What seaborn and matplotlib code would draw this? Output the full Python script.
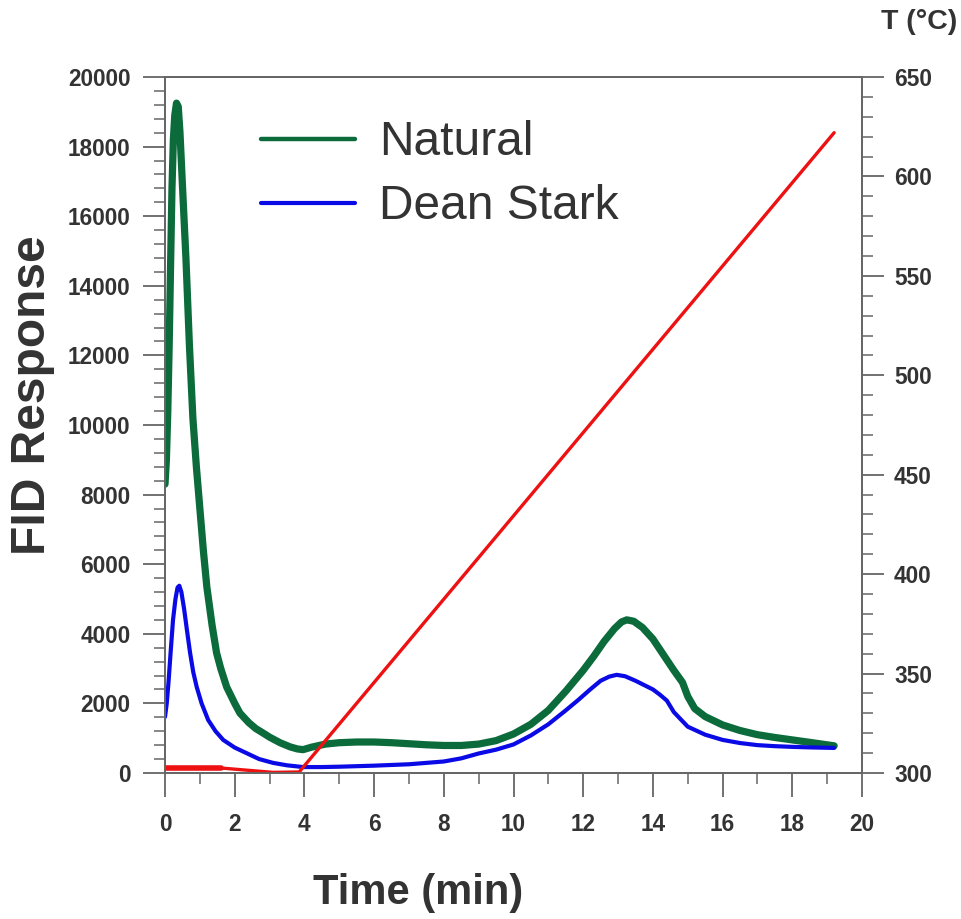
import matplotlib
matplotlib.use("Agg")
import matplotlib.pyplot as plt
from matplotlib.lines import Line2D
from matplotlib.ticker import MultipleLocator
import seaborn as sns
import pandas as pd

# FID signal, natural sample
natural_time = [0, 0.04, 0.08, 0.12, 0.16, 0.2, 0.24, 0.28, 0.33, 0.38, 0.43, 0.5,
                0.6, 0.7, 0.8, 0.9, 1.0, 1.1, 1.2, 1.35, 1.48, 1.6, 1.77, 2.0, 2.15,
                2.4, 2.6, 2.81, 3.0, 3.3, 3.59, 3.8, 3.96, 4.2, 4.6, 5.0, 5.5, 6.0,
                6.5, 7.0, 7.5, 8.0, 8.5, 9.0, 9.5, 10.0, 10.5, 11.0, 11.5, 12.0,
                12.3, 12.6, 12.9, 13.1, 13.25, 13.45, 13.7, 14.0, 14.3, 14.6, 14.85,
                15.0, 15.2, 15.5, 16.0, 16.5, 17.0, 17.5, 18.0, 18.5, 19.2]
natural_fid = [8300, 9000, 10400, 12300, 14600, 16800, 18200, 18900, 19250, 19150,
               18400, 16900, 14800, 12300, 10200, 8800, 7600, 6400, 5350, 4250, 3450,
               3000, 2470, 2000, 1720, 1450, 1280, 1150, 1030, 870, 750, 690, 670,
               740, 830, 870, 890, 890, 870, 840, 810, 790, 790, 830, 930, 1120, 1400,
               1800, 2350, 2950, 3350, 3780, 4150, 4340, 4400, 4360, 4180, 3850, 3400,
               2950, 2600, 2200, 1850, 1620, 1380, 1220, 1100, 1020, 950, 880, 780]

# FID signal, Dean Stark extracted sample
dean_time = [0, 0.05, 0.1, 0.16, 0.23, 0.3, 0.36, 0.41, 0.47, 0.55, 0.63, 0.72, 0.81,
             0.91, 1.05, 1.24, 1.45, 1.67, 2.0, 2.34, 2.7, 3.1, 3.5, 3.96, 4.5, 5.0,
             6.0, 7.0, 8.0, 8.5, 9.0, 9.5, 10.0, 10.5, 11.0, 11.5, 11.86, 12.2, 12.5,
             12.75, 12.96, 13.2, 13.5, 13.8, 14.0, 14.2, 14.4, 14.6, 15.0, 15.5,
             16.0, 16.5, 17.0, 17.5, 18.0, 18.5, 19.2]
dean_fid = [1610, 2000, 2600, 3450, 4400, 5000, 5330, 5380, 5200, 4700, 4100, 3450,
            2900, 2470, 2000, 1520, 1200, 950, 730, 570, 400, 290, 220, 170, 170, 180,
            210, 250, 330, 420, 560, 670, 820, 1080, 1400, 1800, 2100, 2400, 2650,
            2770, 2820, 2780, 2650, 2500, 2400, 2250, 2080, 1750, 1330, 1100, 950, 860,
            800, 770, 750, 735, 720]

# Oven temperature programme
temp_time = [0, 1.6, 3.1, 3.85, 19.2]
temp_c = [302.5, 302.5, 300.3, 300.5, 622]

x_ticks = list(range(0, 21, 2))
fid_ticks = list(range(0, 20001, 2000))
temp_ticks = list(range(300, 651, 50))

GREEN = "#0b6b3b"
BLUE = "#0a0ae6"
RED = "#ee1111"
TXT = "#333333"
AX = "#666666"

sns.set_style("white")
plt.rcParams["font.family"] = ["Liberation Sans", "DejaVu Sans"]
plt.rcParams["lines.solid_joinstyle"] = "round"
plt.rcParams["lines.solid_capstyle"] = "round"

fig = plt.figure(figsize=(9.61, 9.19), dpi=100)
ax = fig.add_axes([0.1717, 0.1589, 0.897 - 0.1717, 0.9162 - 0.1589])
ax2 = ax.twinx()

nat = pd.DataFrame({"t": natural_time, "v": natural_fid})
ds = pd.DataFrame({"t": dean_time, "v": dean_fid})
tp = pd.DataFrame({"t": temp_time, "T": temp_c})

sns.lineplot(data=nat, x="t", y="v", ax=ax, color=GREEN, lw=5.2, legend=False)
sns.lineplot(data=ds, x="t", y="v", ax=ax, color=BLUE, lw=3.0, legend=False)
sns.lineplot(data=tp, x="t", y="T", ax=ax2, color=RED, lw=2.4, legend=False)
sns.lineplot(data=tp.iloc[:2], x="t", y="T", ax=ax2, color=RED, lw=4.0, legend=False)

ax.set_xlim(0, 20)
ax.set_ylim(0, 20000)
ax2.set_ylim(300, 650)

ax.set_xticks(x_ticks)
ax.set_yticks(fid_ticks)
ax2.set_yticks(temp_ticks)
ax.xaxis.set_minor_locator(MultipleLocator(1))
ax.yaxis.set_minor_locator(MultipleLocator(400))
ax2.yaxis.set_minor_locator(MultipleLocator(10))

tick_font = dict(fontsize=16.3, fontweight="bold", color=TXT)
ax.set_xticklabels([str(v) for v in x_ticks], **tick_font)
ax.set_yticklabels([str(v) for v in fid_ticks], **tick_font)
ax2.set_yticklabels([str(v) for v in temp_ticks], **tick_font)

for a in (ax, ax2):
    for s in a.spines.values():
        s.set_color(AX)
        s.set_linewidth(1.3)
        s.set_visible(True)

ax.tick_params(axis="y", which="major", direction="out", length=16, width=1.3,
               color=AX, pad=9, left=True)
ax.tick_params(axis="x", which="major", direction="out", length=17, width=1.3,
               color=AX, pad=12, bottom=True)
ax.tick_params(axis="both", which="minor", direction="out", length=8, width=1.1,
               color=AX, left=True, bottom=True)
ax2.tick_params(axis="y", which="major", direction="out", length=16, width=1.3,
                color=AX, pad=7, right=True)
ax2.tick_params(axis="y", which="minor", direction="out", length=8, width=1.1,
                color=AX, right=True)

ax.set_xlabel("Time (min)", fontsize=30, fontweight="bold", color=TXT)
ax.xaxis.set_label_coords((418 - 165) / 697, -(893 - 773) / 696)
ax.xaxis.label.set_va("center")
ax.set_ylabel("FID Response", fontsize=34.5, fontweight="bold", color=TXT)
ax.yaxis.set_label_coords(-(165 - 32) / 697, (773 - 395) / 696)
ax.yaxis.label.set_va("center")
ax2.set_ylabel("")
fig.text(0.9565, 0.976, "T (°C)", fontsize=20.5, fontweight="bold", color=TXT,
         ha="center", va="center")

handles = [Line2D([], [], color=GREEN, lw=3.2), Line2D([], [], color=BLUE, lw=3.0)]
leg = ax.legend(handles, ["Natural", "Dean Stark"], loc="upper left",
                bbox_to_anchor=(0.09, 0.986), frameon=False, fontsize=34.5,
                handlelength=1.95, handletextpad=0.5, labelspacing=0.4,
                borderpad=0.2)
for t in leg.get_texts():
    t.set_color(TXT)

fig.savefig("out.png", dpi=100, facecolor="white")
